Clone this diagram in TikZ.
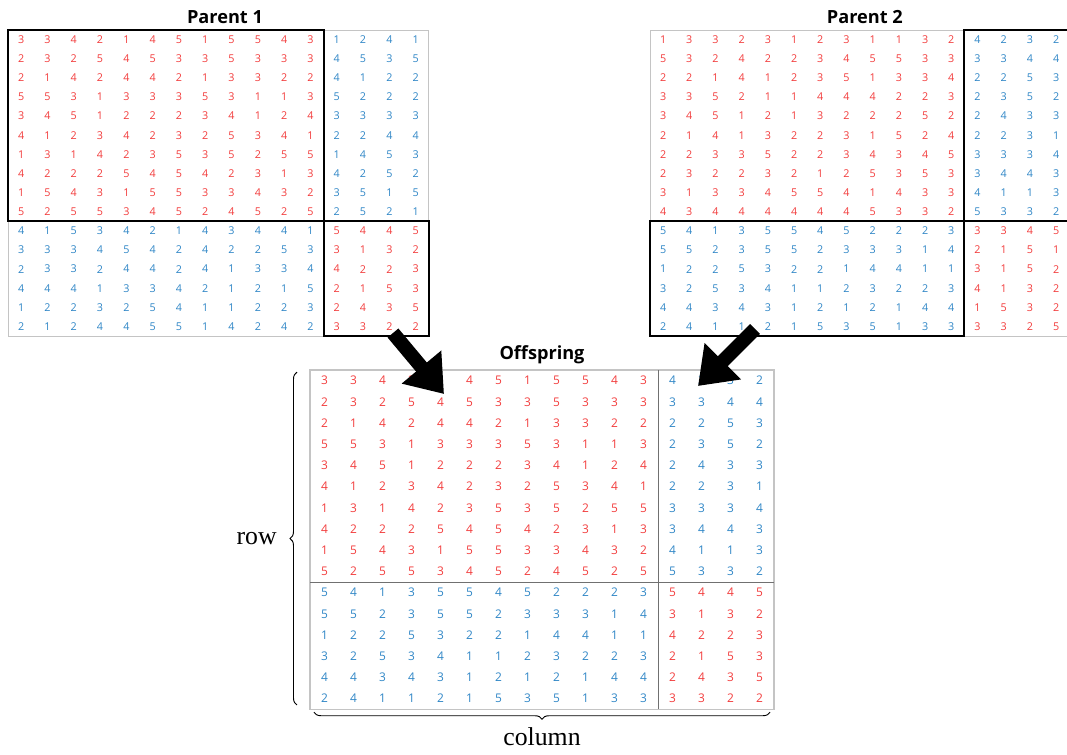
\documentclass[tikz,border=0pt]{standalone}
\usepackage{fontspec}
\setmainfont{Liberation Serif}
\setsansfont{Open Sans}
\usetikzlibrary{arrows.meta, decorations.pathreplacing}

\definecolor{numred}{HTML}{F23C3C}
\definecolor{numblue}{HTML}{2F86C6}
\definecolor{gridline}{HTML}{C4C4C4}
\definecolor{divline}{HTML}{707070}

\tikzset{
  num/.style={font=\sffamily\fontsize{9.2}{10}\selectfont, inner sep=0pt},
  numr/.style={num, text=numred},
  numb/.style={num, text=numblue},
  onumr/.style={numr, font=\sffamily\fontsize{10.2}{11}\selectfont},
  onumb/.style={numb, font=\sffamily\fontsize{10.2}{11}\selectfont},
  %
  ttl/.style={font=\sffamily\bfseries\fontsize{15.5}{17}\selectfont, inner sep=0pt},
  axlbl/.style={font=\fontsize{22}{24}\selectfont, inner sep=0pt},
  %
  outer/.style={draw=gridline, line width=0.8pt},
  hilite/.style={draw=black, line width=1.6pt},
  divider/.style={draw=divline, line width=0.8pt},
  bigarrow/.style={line width=12pt, -{Triangle[length=30pt, width=42pt]}},
  brc/.style={decorate, decoration={brace, amplitude=6pt}, line width=0.8pt},
}

% #1 name, #2 style, #3 row offset, #4 col offset, #5 rows
\newcommand{\putvals}[5]{%
  \foreach \rw [count=\i] in {#5} {
    \foreach \v [count=\j] in \rw {
      \pgfmathtruncatemacro\ri{\i+#3}
      \pgfmathtruncatemacro\cj{\j+#4}
      \node[#2] (#1-\ri-\cj) at ({(\cj-0.5)*\cw},{(\ri-0.5)*\ch}) {\v};
    }
  }
}

\begin{document}
\begin{tikzpicture}[x=0.03cm, y=-0.03cm]
\useasboundingbox (0,0) rectangle (1067,754);

% ------------------------------------------------------------- parent 1
\begin{scope}[shift={(8,30)}]
  \def\cw{26.3}\def\ch{19.13}
  \putvals{p1}{numr}{0}{0}{
    {3,3,4,2,1,4,5,1,5,5,4,3},{2,3,2,5,4,5,3,3,5,3,3,3},
    {2,1,4,2,4,4,2,1,3,3,2,2},{5,5,3,1,3,3,3,5,3,1,1,3},
    {3,4,5,1,2,2,2,3,4,1,2,4},{4,1,2,3,4,2,3,2,5,3,4,1},
    {1,3,1,4,2,3,5,3,5,2,5,5},{4,2,2,2,5,4,5,4,2,3,1,3},
    {1,5,4,3,1,5,5,3,3,4,3,2},{5,2,5,5,3,4,5,2,4,5,2,5}}
  \putvals{p1}{numb}{0}{12}{
    {1,2,4,1},{4,5,3,5},{4,1,2,2},{5,2,2,2},{3,3,3,3},
    {2,2,4,4},{1,4,5,3},{4,2,5,2},{3,5,1,5},{2,5,2,1}}
  \putvals{p1}{numb}{10}{0}{
    {4,1,5,3,4,2,1,4,3,4,4,1},{3,3,3,4,5,4,2,4,2,2,5,3},
    {2,3,3,2,4,4,2,4,1,3,3,4},{4,4,4,1,3,3,4,2,1,2,1,5},
    {1,2,2,3,2,5,4,1,1,2,2,3},{2,1,2,4,4,5,5,1,4,2,4,2}}
  \putvals{p1}{numr}{10}{12}{
    {5,4,4,5},{3,1,3,2},{4,2,2,3},{2,1,5,3},{2,4,3,5},{3,3,2,2}}

  \draw[outer] (0,0) rectangle ({16*\cw},{16*\ch});
  \draw[hilite] (0,0) rectangle ({12*\cw},{10*\ch});
  \draw[hilite] ({12*\cw},{10*\ch}) rectangle ({16*\cw},{16*\ch});
  \node[ttl] (t1) at ({8.25*\cw},-13) {Parent 1};
\end{scope}

% ------------------------------------------------------------- parent 2
\begin{scope}[shift={(650,30)}]
  \def\cw{26.2}\def\ch{19.13}
  \putvals{p2}{numr}{0}{0}{
    {1,3,3,2,3,1,2,3,1,1,3,2},{5,3,2,4,2,2,3,4,5,5,3,3},
    {2,2,1,4,1,2,3,5,1,3,3,4},{3,3,5,2,1,1,4,4,4,2,2,3},
    {3,4,5,1,2,1,3,2,2,2,5,2},{2,1,4,1,3,2,2,3,1,5,2,4},
    {2,2,3,3,5,2,2,3,4,3,4,5},{2,3,2,2,3,2,1,2,5,3,5,3},
    {3,1,3,3,4,5,5,4,1,4,3,3},{4,3,4,4,4,4,4,4,5,3,3,2}}
  \putvals{p2}{numb}{0}{12}{
    {4,2,3,2},{3,3,4,4},{2,2,5,3},{2,3,5,2},{2,4,3,3},
    {2,2,3,1},{3,3,3,4},{3,4,4,3},{4,1,1,3},{5,3,3,2}}
  \putvals{p2}{numb}{10}{0}{
    {5,4,1,3,5,5,4,5,2,2,2,3},{5,5,2,3,5,5,2,3,3,3,1,4},
    {1,2,2,5,3,2,2,1,4,4,1,1},{3,2,5,3,4,1,1,2,3,2,2,3},
    {4,4,3,4,3,1,2,1,2,1,4,4},{2,4,1,1,2,1,5,3,5,1,3,3}}
  \putvals{p2}{numr}{10}{12}{
    {3,3,4,5},{2,1,5,1},{3,1,5,2},{4,1,3,2},{1,5,3,2},{3,3,2,5}}

  \draw[outer] (0,0) rectangle ({16*\cw},{16*\ch});
  \draw[hilite] ({12*\cw},0) rectangle ({16*\cw},{10*\ch});
  \draw[hilite] (0,{10*\ch}) rectangle ({12*\cw},{16*\ch});
  \node[ttl] (t2) at ({8.2*\cw},-13) {Parent 2};
\end{scope}

% ------------------------------------------------------------ offspring
\begin{scope}[shift={(310,370)}]
  \def\cw{29}\def\ch{21.2}
  \putvals{o}{onumr}{0}{0}{
    {3,3,4,2,1,4,5,1,5,5,4,3},{2,3,2,5,4,5,3,3,5,3,3,3},
    {2,1,4,2,4,4,2,1,3,3,2,2},{5,5,3,1,3,3,3,5,3,1,1,3},
    {3,4,5,1,2,2,2,3,4,1,2,4},{4,1,2,3,4,2,3,2,5,3,4,1},
    {1,3,1,4,2,3,5,3,5,2,5,5},{4,2,2,2,5,4,5,4,2,3,1,3},
    {1,5,4,3,1,5,5,3,3,4,3,2},{5,2,5,5,3,4,5,2,4,5,2,5}}
  \putvals{o}{onumb}{0}{12}{
    {4,2,3,2},{3,3,4,4},{2,2,5,3},{2,3,5,2},{2,4,3,3},
    {2,2,3,1},{3,3,3,4},{3,4,4,3},{4,1,1,3},{5,3,3,2}}
  \putvals{o}{onumb}{10}{0}{
    {5,4,1,3,5,5,4,5,2,2,2,3},{5,5,2,3,5,5,2,3,3,3,1,4},
    {1,2,2,5,3,2,2,1,4,4,1,1},{3,2,5,3,4,1,1,2,3,2,2,3},
    {4,4,3,4,3,1,2,1,2,1,4,4},{2,4,1,1,2,1,5,3,5,1,3,3}}
  \putvals{o}{onumr}{10}{12}{
    {5,4,4,5},{3,1,3,2},{4,2,2,3},{2,1,5,3},{2,4,3,5},{3,3,2,2}}

  \draw[outer, line width=1.1pt] (0,0) rectangle ({16*\cw},{16*\ch});
  \draw[divider] ({12*\cw},0) -- ({12*\cw},{16*\ch});
  \draw[divider] (0,{10*\ch}) -- ({16*\cw},{10*\ch});
  \node[ttl] (t3) at ({8*\cw},-15) {Offspring};

  \coordinate (rowbot) at (-13,{15.8*\ch});
  \coordinate (rowtop) at (-13,{0.1*\ch});
  \coordinate (colleft) at (4,{16*\ch+3});
  \coordinate (colright) at ({16*\cw-4},{16*\ch+3});
\end{scope}

% braces
\draw[brc] (rowbot) -- (rowtop) node[axlbl, midway, left=17pt] (rowlbl) {row};
\draw[brc] (colright) -- (colleft) node[axlbl, midway, below=13pt] (collbl) {column};

% crossover arrows
\coordinate (a1s) at (393,333);
\coordinate (a1e) at (444,394);
\coordinate (a2s) at (755,329);
\coordinate (a2e) at (698,386);
\draw[bigarrow] (a1s) -- (a1e);
\draw[bigarrow] (a2s) -- (a2e);

\end{tikzpicture}
\end{document}
